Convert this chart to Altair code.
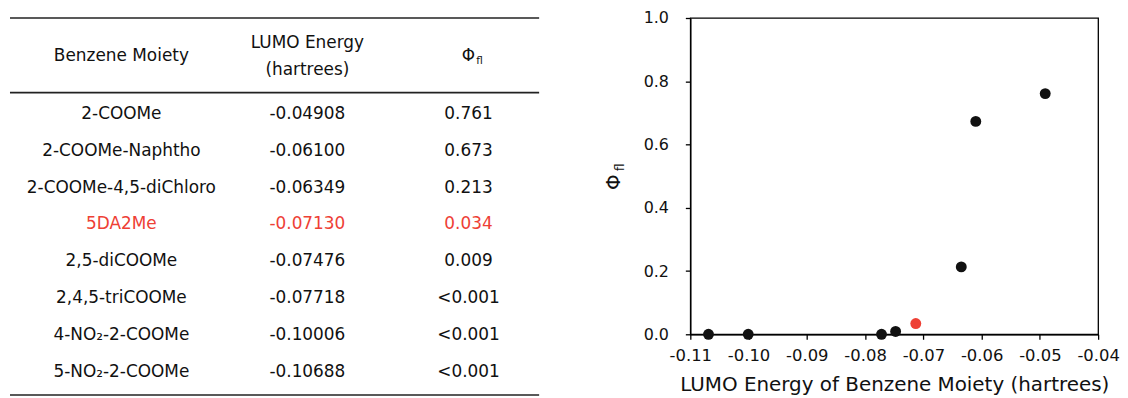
import altair as alt
import pandas as pd

# ---------------- data ----------------
moieties = [
    "2-COOMe",
    "2-COOMe-Naphtho",
    "2-COOMe-4,5-diChloro",
    "5DA2Me",
    "2,5-diCOOMe",
    "2,4,5-triCOOMe",
    "4-NO₂-2-COOMe",
    "5-NO₂-2-COOMe",
]
lumo = [-0.04908, -0.06100, -0.06349, -0.07130, -0.07476, -0.07718, -0.10006, -0.10688]
phi_label = ["0.761", "0.673", "0.213", "0.034", "0.009", "<0.001", "<0.001", "<0.001"]
phi_value = [0.761, 0.673, 0.213, 0.034, 0.009, 0.0, 0.0, 0.0]
highlight = ["no", "no", "no", "yes", "no", "no", "no", "no"]

x_ticks = [-0.11, -0.10, -0.09, -0.08, -0.07, -0.06, -0.05, -0.04]
y_ticks = [0.0, 0.2, 0.4, 0.6, 0.8, 1.0]

df = pd.DataFrame({
    "moiety": moieties,
    "lumo": lumo,
    "phi_label": phi_label,
    "phi": phi_value,
    "hl": highlight,
})
one = pd.DataFrame({"k": [0]})

FONT = "DejaVu Sans"
TXT = "#111111"
FS = 17

# ---------------- table ----------------
TW, TH, HH = 532, 379, 75
CX_MOIETY, CX_LUMO, CX_PHI = 112, 299, 461

text_color = alt.Color("hl:N", scale=alt.Scale(domain=["no", "yes"], range=[TXT, "#ee4035"]), legend=None)
row_y = alt.Y("moiety:N", sort=moieties,
              scale=alt.Scale(range=[HH + 3, HH + 3 + 296], paddingOuter=0, paddingInner=0),
              axis=None)

body = alt.Chart(df)
t_moiety = body.mark_text(font=FONT, fontSize=FS).encode(
    x=alt.value(CX_MOIETY), y=row_y, text="moiety:N", color=text_color)
t_lumo = body.mark_text(font=FONT, fontSize=FS).encode(
    x=alt.value(CX_LUMO), y=row_y, text=alt.Text("lumo:Q", format=".5f"), color=text_color)
t_phi = body.mark_text(font=FONT, fontSize=FS).encode(
    x=alt.value(CX_PHI), y=row_y, text="phi_label:N", color=text_color)

hdr = alt.Chart(one)
h1 = hdr.mark_text(font=FONT, fontSize=FS, color=TXT).encode(
    x=alt.value(CX_MOIETY), y=alt.value(38), text=alt.value("Benzene Moiety"))
h2 = hdr.mark_text(font=FONT, fontSize=FS, color=TXT).encode(
    x=alt.value(CX_LUMO), y=alt.value(25), text=alt.value("LUMO Energy"))
h3 = hdr.mark_text(font=FONT, fontSize=FS, color=TXT).encode(
    x=alt.value(CX_LUMO), y=alt.value(52), text=alt.value("(hartrees)"))
h4 = hdr.mark_text(font=FONT, fontSize=FS, color=TXT).encode(
    x=alt.value(CX_PHI), y=alt.value(38), text=alt.value("Φ"))
h5 = hdr.mark_text(font=FONT, fontSize=10.5, color=TXT).encode(
    x=alt.value(CX_PHI + 11), y=alt.value(43), text=alt.value("fl"))

rule_style = dict(color="#222222", strokeWidth=1.6)
r1 = hdr.mark_rule(**rule_style).encode(x=alt.value(0), x2=alt.value(TW), y=alt.value(0))
r2 = hdr.mark_rule(**rule_style).encode(x=alt.value(0), x2=alt.value(TW), y=alt.value(HH))
r3 = hdr.mark_rule(**rule_style).encode(x=alt.value(0), x2=alt.value(TW), y=alt.value(TH))

table = alt.layer(r1, r2, r3, h1, h2, h3, h4, h5, t_moiety, t_lumo, t_phi).properties(
    width=TW, height=TH)

# ---------------- scatter ----------------
PW, PH = 410, 318

pts = alt.Chart(df).mark_circle(size=120, opacity=1).encode(
    x=alt.X("lumo:Q",
            scale=alt.Scale(domain=[-0.11, -0.04], nice=False, zero=False),
            axis=alt.Axis(values=x_ticks, format=".2f", labelPadding=8, labelFlush=False,
                          labelFontSize=16.5,
                          title="LUMO Energy of Benzene Moiety (hartrees)", titlePadding=11)),
    y=alt.Y("phi:Q",
            scale=alt.Scale(domain=[0, 1], nice=False),
            axis=alt.Axis(values=y_ticks, format=".1f", labelPadding=17, labelFontSize=16,
                          title=None)),
    color=alt.Color("hl:N", scale=alt.Scale(domain=["no", "yes"], range=["#000000", "#ff0000"]),
                    legend=None),
)

ytitle1 = alt.Chart(one).mark_text(font=FONT, fontSize=20, color=TXT, angle=270).encode(
    x=alt.value(-77), y=alt.value(165), text=alt.value("Φ"))
ytitle2 = alt.Chart(one).mark_text(font=FONT, fontSize=12, color=TXT, angle=270).encode(
    x=alt.value(-71), y=alt.value(150), text=alt.value("fl"))

plot = alt.layer(pts, ytitle1, ytitle2).properties(
    width=PW, height=PH,
    view=alt.ViewBackground(stroke="#000000", strokeWidth=1.3))

chart = alt.hconcat(table, plot, spacing=152, bounds="flush").properties(
    padding=0
).configure(
    font=FONT,
    locale=alt.Locale(number=alt.NumberLocale(
        decimal=".", thousands=",", grouping=[3], currency=["", ""], minus="-")),
).configure_view(
    stroke="transparent"
).configure_axis(
    labelFont=FONT, labelFontSize=15, labelColor=TXT,
    titleFont=FONT, titleFontSize=20, titleFontWeight="normal", titleColor=TXT,
    domainColor="#000000", domainWidth=1.3, tickColor="#000000", tickWidth=1.3,
    tickSize=5, grid=False,
)

chart.save("out.html", embed_options={"renderer": "svg", "actions": False})
